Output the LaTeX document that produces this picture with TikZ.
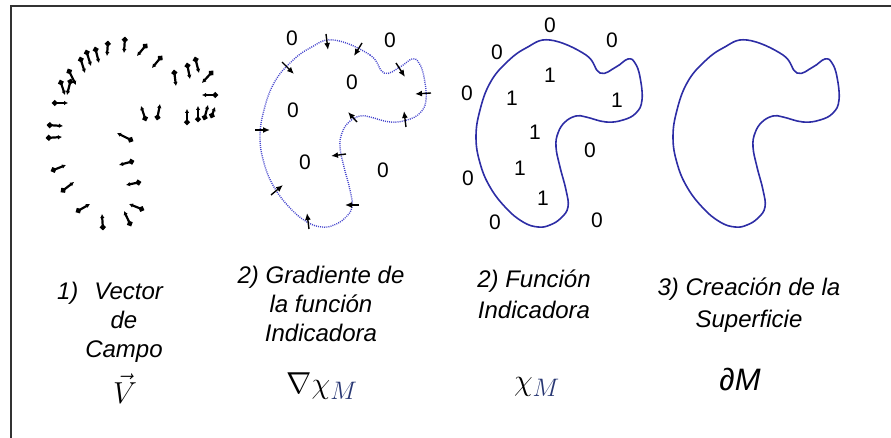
\documentclass[tikz,border=0pt]{standalone}
\usepackage{amsmath}
\usepackage{graphicx}
\usepackage{fontspec}
\setmainfont{Liberation Sans}
\usetikzlibrary{arrows.meta}
\definecolor{psrblue}{RGB}{45,45,165}
\definecolor{psrdots}{RGB}{70,70,205}
\definecolor{psrframe}{RGB}{50,50,50}
\definecolor{psrsub}{RGB}{40,55,115}

% contorno de la superficie (coordenadas del panel 4)
\newcommand\blobshape{plot[smooth cycle, tension=0.7] coordinates {(747,40) (783,55) (797,73) (813,67) (825,59) (832,63) (837,77) (839,100) (833,113) (820,120) (803,122) (783,117) (773,116) (762,122) (755,133) (753,147) (757,167) (763,190) (765,207) (758,218) (747,225) (735,227) (720,222) (703,208) (687,187) (677,163) (673,137) (677,110) (687,83) (703,63) (723,48)}}
\newcommand\bigmath[1]{\scalebox{1.22}{$#1$}}

\begin{document}
\begin{tikzpicture}[x=1pt, y=-1pt,
  caption/.style={font=\fontsize{24}{29}\selectfont\itshape, align=center, anchor=north, inner sep=0pt},
  digit/.style={font=\fontsize{21}{24}\selectfont, inner sep=0pt},
  formula/.style={font=\fontsize{24.88}{30}\selectfont, anchor=base, inner sep=0pt},
  field/.style={line width=2.2pt, {Circle[length=5.5pt]}-{Latex[length=4pt,width=4.5pt]}},
  normalvec/.style={line width=1.4pt, -{Latex[length=7pt,width=6pt]}},
  dotline/.style={psrdots, line width=1.4pt, dash pattern=on 1pt off 1.1pt},
  blobline/.style={psrblue, line width=1.6pt}]
  \useasboundingbox (0,0) rectangle (891,438);
  \draw[psrframe, line width=1.5pt] (891,6) -- (11,6) -- (11,438);

  % 1) vector de campo
  \foreach \xa/\ya/\xb/\yb in {108/41/107/56, 125/37/124/53, 147/44/137/56, 162/56/152/68,
      95/47/99/63, 86/50/91/66, 80/57/85/73, 68/69/76/85, 60/80/65/95, 71/79/67/95,
      52/103/68/103, 47/125/63/126, 46/138/62/137, 51/171/66/165, 61/192/74/182,
      76/212/90/204, 103/230/102/214, 131/226/124/211, 144/210/129/204, 141/182/126/185,
      134/161/119/165, 133/141/117/133, 146/121/141/106, 157/120/160/104, 174/70/176/86,
      187/63/190/79, 195/57/199/73, 213/71/202/83, 218/95/202/95, 198/122/198/106,
      204/120/208/105, 211/118/215/107, 187/125/187/109}
    \draw[field] (\xa,\ya) -- (\xb,\yb);

  % 2) gradiente
  \draw[dotline, xshift=-413pt] \blobshape;
  \foreach \xa/\ya/\xb/\yb in {326/34/328/50, 362/43/354/56, 282/62/294/74, 396/63/405/77,
      431/93/415/94, 406/127/404/111, 357/122/348/112, 346/154/331/156, 255/130/270/130,
      271/195/283/185, 309/229/307/213, 359/205/345/205}
    \draw[normalvec] (\xa,\ya) -- (\xb,\yb);
  \foreach \x/\y [count=\i] in {292/38, 390/40, 352/82, 293/110, 305/162, 383/170}
    \node[digit] (gz\i) at (\x,\y) {0};

  % 3) funcion indicadora
  \draw[blobline, xshift=-197pt] \blobshape;
  \foreach \x/\y [count=\i] in {550/25, 612/40, 497/52, 467/93, 468/178, 495/222, 597/220, 590/150}
    \node[digit] (fz\i) at (\x,\y) {0};
  \foreach \x/\y [count=\i] in {550/75, 512/98, 617/100, 535/132, 520/168, 543/198}
    \node[digit] (fo\i) at (\x,\y) {1};

  % 4) superficie
  \draw[blobline] \blobshape;

  \node[caption] (capfield) at (124,282) {1)\hspace{16pt}Vector\hspace*{28pt}\\de\\Campo};
  \node[caption] (capgrad) at (321,266) {2) Gradiente de\\la función\\Indicadora};
  \node[caption, font=\fontsize{24}{31}\selectfont\itshape] (capind) at (534,270) {2) Función\\Indicadora};
  \node[caption, font=\fontsize{24}{32}\selectfont\itshape] (capsurf) at (749,278) {3) Creación de la\\Superficie};

  \node[formula] (vecV) at (125,403) {\bigmath{\vec{V}}};
  \node[formula] (gradchi) at (322,393) {\bigmath{\nabla\chi_{\color{psrsub}M}}};
  \node[formula] (chi) at (537,390) {\bigmath{\chi_{\color{psrsub}M}}};
  \node[formula, font=\fontsize{31}{36}\selectfont\itshape] (dM) at (740,390) {∂M};
\end{tikzpicture}
\end{document}
